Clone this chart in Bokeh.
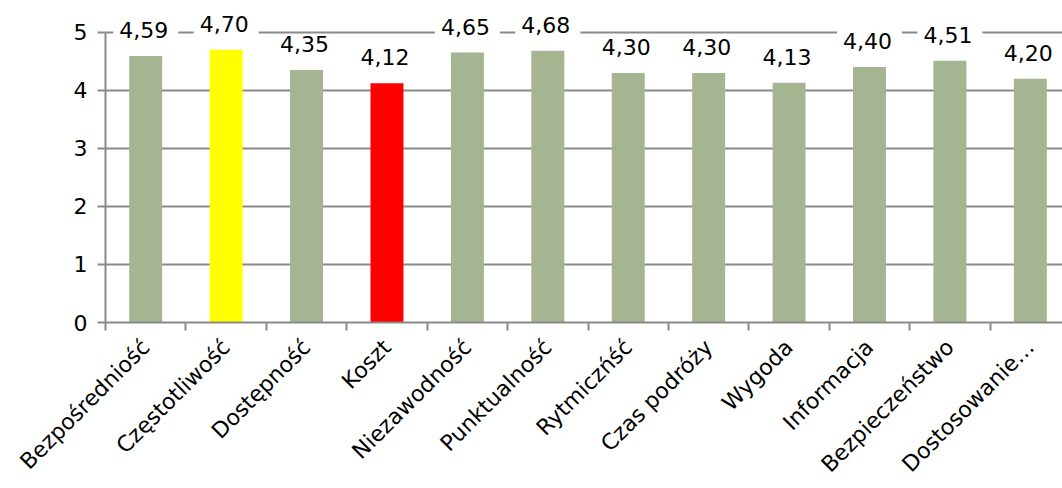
from bokeh.plotting import figure
from bokeh.models import Range1d, FixedTicker, ColumnDataSource
from bokeh.embed import file_html
from bokeh.resources import INLINE
from bokeh.core.properties import value
import math

categories = ["Bezpośredniość", "Częstotliwość", "Dostępność", "Koszt", "Niezawodność",
              "Punktualność", "Rytmiczńść", "Czas podróży", "Wygoda", "Informacja",
              "Bezpieczeństwo", "Dostosowanie…"]
values = [4.59, 4.70, 4.35, 4.12, 4.65, 4.68, 4.30, 4.30, 4.13, 4.40, 4.51, 4.20]
colors = ["#A5B592", "#FFFF00", "#A5B592", "#FF0000", "#A5B592", "#A5B592",
          "#A5B592", "#A5B592", "#A5B592", "#A5B592", "#A5B592", "#A5B592"]
y_ticks = [0, 1, 2, 3, 4, 5]

xs = [i + 0.5 for i in range(len(categories))]
labels = [f"{v:.2f}".replace(".", ",") for v in values]
src = ColumnDataSource(dict(x=xs, top=values, color=colors, label=labels))

FONT = "DejaVu Sans"
GRID = "#898989"

p = figure(width=1062, height=488, output_backend="svg", toolbar_location=None,
           x_range=Range1d(0, 11.9), y_range=Range1d(0, 5.41),
           min_border_left=105, min_border_right=0, min_border_top=8, min_border_bottom=166)
p.outline_line_color = None

p.vbar(x="x", top="top", width=0.41, bottom=0, fill_color="color", line_color=None, source=src)
p.text(x="x", y="top", text="label", source=src, text_align="center", text_baseline="bottom",
       y_offset=-8, text_font=value(FONT), text_font_size="22px", text_color="black",
       background_fill_color="white", padding=[6, 10, 2, 10])

# y axis
p.yaxis.ticker = FixedTicker(ticks=y_ticks)
p.yaxis.bounds = (0, 5)
p.yaxis.axis_line_color = GRID
p.yaxis.axis_line_width = 2
p.yaxis.major_tick_line_color = GRID
p.yaxis.major_tick_line_width = 2
p.yaxis.major_tick_out = 8
p.yaxis.major_tick_in = 0
p.yaxis.minor_tick_line_color = None
p.yaxis.major_label_standoff = 10
p.yaxis.major_label_text_font = FONT
p.yaxis.major_label_text_font_size = "22px"
p.yaxis.major_label_text_color = "black"
p.ygrid.ticker = FixedTicker(ticks=y_ticks)
p.ygrid.grid_line_color = GRID
p.ygrid.grid_line_width = 2

# x axis
p.xaxis.ticker = FixedTicker(ticks=xs, minor_ticks=list(range(len(categories) + 1)))
p.xaxis.major_label_overrides = {x: c for x, c in zip(xs, categories)}
p.xaxis.major_label_orientation = math.pi / 4
p.xaxis.major_tick_line_color = None
p.xaxis.major_tick_out = 0
p.xaxis.major_tick_in = 0
p.xaxis.minor_tick_line_color = GRID
p.xaxis.minor_tick_line_width = 2
p.xaxis.minor_tick_out = 8
p.xaxis.minor_tick_in = 0
p.xaxis.axis_line_color = GRID
p.xaxis.axis_line_width = 2
p.xaxis.major_label_standoff = 13
p.xaxis.major_label_text_font = FONT
p.xaxis.major_label_text_font_size = "22px"
p.xaxis.major_label_text_color = "black"
p.xgrid.grid_line_color = None

open("out.html", "w").write(file_html(p, INLINE))
